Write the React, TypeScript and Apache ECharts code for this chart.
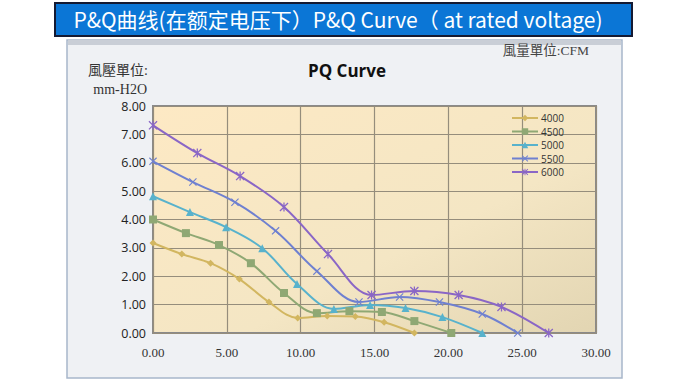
import React, { useEffect, useRef } from "react";
import * as echarts from "echarts";

const seriesNames = ["4000", "4500", "5000", "5500", "6000"];
const x4000 = [0, 1.95, 3.9, 5.85, 7.85, 9.8, 11.8, 13.7, 15.65, 17.7];
const y4000 = [3.17, 2.78, 2.46, 1.9, 1.09, 0.53, 0.6, 0.58, 0.38, 0];
const x4500 = [0, 2.23, 4.47, 6.63, 8.87, 11.1, 13.3, 15.5, 17.7, 20.2];
const y4500 = [4.0, 3.52, 3.1, 2.46, 1.41, 0.7, 0.77, 0.74, 0.42, 0];
const x5000 = [0, 2.5, 4.95, 7.4, 9.75, 12.25, 14.7, 17.1, 19.6, 22.3];
const y5000 = [4.82, 4.26, 3.73, 2.99, 1.73, 0.85, 0.99, 0.88, 0.56, 0];
const x5500 = [0, 2.7, 5.55, 8.3, 11.1, 13.95, 16.7, 19.4, 22.3, 24.7];
const y5500 = [6.05, 5.32, 4.61, 3.6, 2.18, 1.09, 1.27, 1.09, 0.67, 0];
const x6000 = [0, 3.0, 5.9, 8.87, 11.85, 14.8, 17.7, 20.7, 23.6, 26.8];
const y6000 = [7.32, 6.34, 5.53, 4.44, 2.78, 1.34, 1.48, 1.34, 0.92, 0];

const xs = [x4000, x4500, x5000, x5500, x6000];
const ys = [y4000, y4500, y5000, y5500, y6000];
const colors = ["#d2b660", "#8fa874", "#58b2cc", "#6f80d0", "#8a66c6"];

const X_PATH = "path://M1,0 L5,4 L9,0 L10,1 L6,5 L10,9 L9,10 L5,6 L1,10 L0,9 L4,5 L0,1 Z";
const STAR_PATH =
  "path://M1,0 L5,4 L9,0 L10,1 L6,5 L10,9 L9,10 L5,6 L1,10 L0,9 L4,5 L0,1 Z M4.3,0 L5.7,0 L5.7,10 L4.3,10 Z";
const symbols = ["diamond", "rect", "triangle", X_PATH, STAR_PATH];
const symbolSizes = [7, 8, 8, 8, 9];

const bannerText = "P&Q曲线(在额定电压下）P&Q Curve（ at rated voltage)";

export default function App() {
  const ref = useRef<HTMLDivElement>(null);
  useEffect(() => {
    if (!ref.current) return;
    const chart = echarts.init(ref.current, null, { renderer: "svg" });
    const series = seriesNames.map((name, i) => ({
      name,
      type: "line",
      smooth: 0.35,
      data: xs[i].map((x, j) => [x, ys[i][j]]),
      symbol: symbols[i],
      symbolSize: symbolSizes[i],
      showAllSymbol: true,
      lineStyle: { color: colors[i], width: 2 },
      itemStyle: { color: colors[i] },
      z: 3,
    }));
    chart.setOption({
      animation: false,
      backgroundColor: "#ffffff",
      graphic: [
        {
          type: "rect",
          z: -10,
          shape: { x: 67, y: 40, width: 555, height: 338 },
          style: { fill: "#eff1f4", stroke: "#a8b6ca", lineWidth: 1.5 },
        },
        {
          type: "rect",
          z: -9,
          shape: { x: 68, y: 40, width: 553, height: 5 },
          style: { fill: "#c9ced6" },
        },
        {
          type: "rect",
          z: 10,
          shape: { x: 55, y: 3, width: 577, height: 33 },
          style: { fill: "#0b76d6", stroke: "#141a33", lineWidth: 2 },
        },
        {
          type: "text",
          z: 11,
          x: 338,
          y: 19,
          style: {
            text: bannerText,
            fill: "#ffffff",
            font: '21px "Noto Sans CJK SC", "Noto Sans", sans-serif',
            align: "center",
            verticalAlign: "middle",
          },
        },
        {
          type: "text",
          x: 347,
          y: 70,
          style: {
            text: "PQ Curve",
            fill: "#111111",
            font: 'bold 17px "Open Sans", sans-serif',
            align: "center",
            verticalAlign: "middle",
          },
        },
        {
          type: "text",
          x: 148,
          y: 70,
          style: {
            text: "風壓單位:",
            fill: "#333333",
            font: '14px "Liberation Serif", "Noto Sans CJK TC", serif',
            align: "right",
            verticalAlign: "middle",
          },
        },
        {
          type: "text",
          x: 147,
          y: 89,
          style: {
            text: "mm-H2O",
            fill: "#333333",
            font: '14px "Liberation Serif", serif',
            align: "right",
            verticalAlign: "middle",
          },
        },
        {
          type: "text",
          x: 589,
          y: 50,
          style: {
            text: "風量單位:CFM",
            fill: "#444444",
            font: '13.5px "Liberation Serif", "Noto Sans CJK TC", serif',
            align: "right",
            verticalAlign: "middle",
          },
        },
      ],
      grid: {
        left: 153,
        top: 106,
        width: 443,
        height: 227,
        show: true,
        backgroundColor: new echarts.graphic.LinearGradient(0, 0, 1, 1, [
          { offset: 0, color: "#fde9c4" },
          { offset: 0.6, color: "#f4e6c4" },
          { offset: 1, color: "#e2d5b2" },
        ]),
        borderColor: "#8a8a8a",
        borderWidth: 2,
      },
      legend: {
        orient: "vertical",
        left: 506,
        top: 108,
        itemWidth: 26,
        itemHeight: 8,
        itemGap: 3.5,
        textStyle: {
          fontFamily: '"Open Sans", sans-serif',
          fontSize: 10,
          lineHeight: 8,
          color: "#333333",
          padding: [0, 0, 0, -2],
        },
        data: seriesNames,
      },
      xAxis: {
        type: "value",
        min: 0,
        max: 30,
        interval: 5,
        axisLine: { show: false },
        axisTick: { show: false },
        axisLabel: {
          formatter: (v: number) => v.toFixed(2),
          fontFamily: '"Liberation Serif", serif',
          fontSize: 13,
          color: "#333333",
          margin: 13,
        },
        splitLine: { show: true, lineStyle: { color: "#958d7c", width: 1.2 } },
      },
      yAxis: {
        type: "value",
        min: 0,
        max: 8,
        interval: 1,
        axisLine: { show: false },
        axisTick: { show: false },
        axisLabel: {
          formatter: (v: number) => v.toFixed(2),
          fontFamily: '"Open Sans", sans-serif',
          fontSize: 12.5,
          color: "#222222",
          margin: 7,
        },
        splitLine: { show: true, lineStyle: { color: "#958d7c", width: 1.2 } },
      },
      series,
    });
    return () => chart.dispose();
  }, []);
  return (
    <div
      ref={ref}
      style={{ position: "absolute", left: 0, top: 0, width: 680, height: 380 }}
    />
  );
}
